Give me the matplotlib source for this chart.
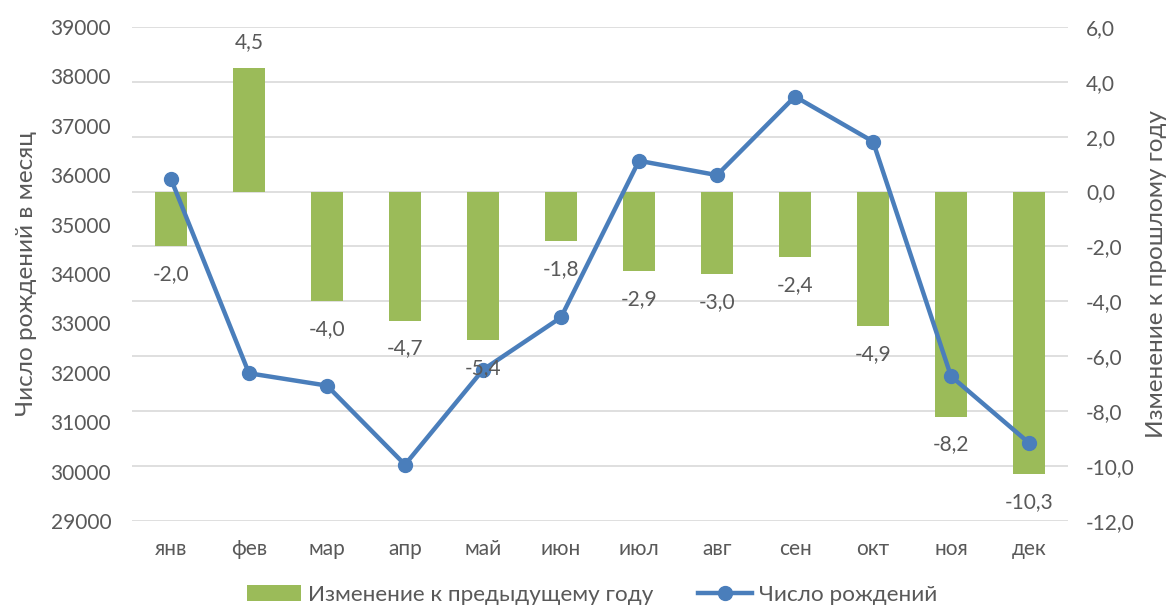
import matplotlib
matplotlib.use('Agg')
import matplotlib.pyplot as plt
import numpy as np
from matplotlib.ticker import FuncFormatter

plt.rcParams['font.family'] = ['Lato', 'DejaVu Sans']

# данные
months = ['янв', 'фев', 'мар', 'апр', 'май', 'июн', 'июл', 'авг', 'сен', 'окт', 'ноя', 'дек']
births = [35920, 31990, 31740, 30140, 32060, 33120, 36290, 36000, 37590, 36680, 31930, 30580]
change = [-2.0, 4.5, -4.0, -4.7, -5.4, -1.8, -2.9, -3.0, -2.4, -4.9, -8.2, -10.3]

green = '#9BBB59'
blue = '#4A7EBB'
gray = '#595959'

fig = plt.figure(figsize=(11.73, 6.07), dpi=100)
ax = fig.add_axes([0.1125, 0.1417, 0.798, 0.814])
ax2 = ax.twinx()

x = np.arange(len(months))

# столбцы - правая ось
ax2.bar(x, change, width=0.4, color=green, zorder=2, label='Изменение к предыдущему году')
ax2.set_ylim(-12, 6)
ax2.set_yticks(np.arange(-12, 7, 2))
ax2.yaxis.set_major_formatter(FuncFormatter(lambda v, p: f'{v:.1f}'.replace('.', ',')))
ax2.grid(axis='y', color='#D9D9D9', lw=1.2, zorder=0)
ax2.set_axisbelow(True)

# линия - левая ось
ax.plot(x, births, color=blue, lw=3.2, marker='o', markersize=10, zorder=3,
        label='Число рождений')
ax.set_ylim(29000, 39000)
ax.set_yticks(np.arange(29000, 39001, 1000))
ax.set_xlim(-0.5, 11.5)
ax.set_xticks(x)
ax.set_xticklabels(months)

ax.set_zorder(ax2.get_zorder() + 1)
ax.patch.set_visible(False)

# подписи столбцов поверх всего
for xi, v in zip(x, change):
    off = 19 if v > 0 else -20
    ax.annotate(f'{v:.1f}'.replace('.', ','), (xi, v), xycoords=ax2.transData,
                xytext=(0, off), textcoords='offset points', ha='center', va='center',
                fontsize=15, color=gray, zorder=5)

for a in (ax, ax2):
    for s in a.spines.values():
        s.set_visible(False)
    a.tick_params(length=0, labelsize=15, colors=gray)
ax.tick_params(axis='y', pad=15)
ax.tick_params(axis='x', pad=13)
ax2.tick_params(axis='y', pad=13)

ax.set_ylabel('Число рождений в месяц', fontsize=17.5, color=gray, labelpad=10)
ax2.set_ylabel('Изменение к прошлому году', fontsize=17.5, color=gray, labelpad=8)

h1, l1 = ax2.get_legend_handles_labels()
h2, l2 = ax.get_legend_handles_labels()
fig.legend(h1 + h2, l1 + l2, loc='center', bbox_to_anchor=(0.505, 0.02), ncol=2,
           frameon=False, fontsize=16.2, labelcolor=gray, handlelength=2.4,
           columnspacing=2.0, handletextpad=0.3)

fig.savefig('out.png', dpi=100)
